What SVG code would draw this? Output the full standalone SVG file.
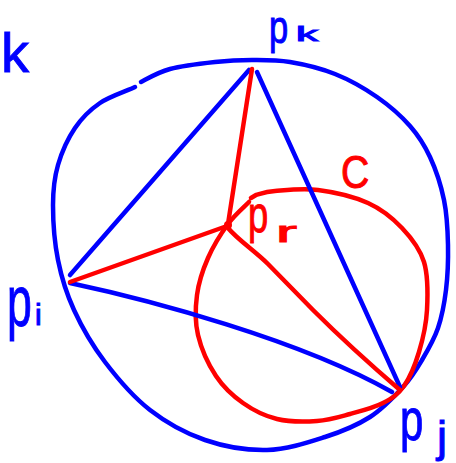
<svg xmlns="http://www.w3.org/2000/svg" width="456" height="463" viewBox="0 0 456 463">
<style>
.b{fill:none;stroke:#0000ff;stroke-width:4.5;stroke-linecap:round;stroke-linejoin:round}
.r{fill:none;stroke:#ff0000;stroke-width:4.5;stroke-linecap:round;stroke-linejoin:round}
.tb{fill:#0000ff;stroke:#0000ff;stroke-width:1;font-family:"Liberation Sans",Arial,sans-serif}
.tr{fill:#ff0000;stroke:#ff0000;stroke-width:1;font-family:"Liberation Sans",Arial,sans-serif}
</style>
<rect width="456" height="463" fill="#ffffff"/>
<g id="circle-k">
<path class="b" d="M141,82 C146.8,79 157.7,72.3 170,69 C182.3,65.7 201.3,63.5 215,62 C228.7,60.5 239.5,60 252,60 C264.5,60 276.2,59.7 290,62 C303.8,64.3 320.5,68.2 335,74 C349.5,79.8 364.5,88.3 377,97 C389.5,105.7 401.2,116 410,126 C418.8,136 424.3,144.7 430,157 C435.7,169.3 441,185.3 444,200 C447,214.7 447.7,230 448,245 C448.3,260 447.7,276.2 446,290 C444.3,303.8 442,316.3 438,328 C434,339.7 427.8,350.2 422,360 C416.2,369.8 411.7,377.5 403,387 C394.3,396.5 383,408.7 370,417 C357,425.3 342.2,431.5 325,437 C307.8,442.5 287,449.5 267,450 C247,450.5 224.5,446.7 205,440 C185.5,433.3 166.7,423 150,410 C133.3,397 117.7,378.7 105,362 C92.3,345.3 81.8,327 74,310 C66.2,293 61.5,277.5 58,260 C54.5,242.5 53,220.8 53,205 C53,189.2 54.3,177.8 58,165 C61.7,152.2 68,138.3 75,128 C82,117.7 90,109.8 100,103 C110,96.2 128.2,90.5 135,87"/>
<text class="tb" x="1" y="72" font-size="56">k</text>
</g>
<g id="circle-c">
<path class="r" d="M249,202 C245.5,205.7 234.8,214.7 228,224 C221.2,233.3 213.2,246.2 208,258 C202.8,269.8 198.7,282.2 197,295 C195.3,307.8 194.8,321.5 198,335 C201.2,348.5 208.5,364.7 216,376 C223.5,387.3 232.8,395.8 243,403 C253.2,410.2 264.7,416 277,419 C289.3,422 304.8,421.8 317,421 C329.2,420.2 339,417 350,414 C361,411 374,407.7 383,403 C392,398.3 398,394.5 404,386 C410,377.5 415.2,364.7 419,352 C422.8,339.3 426.2,325 427,310 C427.8,295 428.2,275.7 424,262 C419.8,248.3 411.3,237.8 402,228 C392.7,218.2 382,209.3 368,203 C354,196.7 333.5,192 318,190 C302.5,188 285.3,190.2 275,191 C264.7,191.8 259.2,194.3 256,195 L251,198"/>
<text class="tr" transform="translate(341,188) scale(0.85,1)" font-size="46">C</text>
</g>
<g id="connectors">
<line class="b" x1="249" y1="70" x2="70" y2="275"/>
<line class="b" x1="257" y1="72" x2="400" y2="387"/>
<path class="b" d="M70,283 C150,300 300,340 392,392"/>
<line class="r" x1="252" y1="69" x2="228" y2="224"/>
<line class="r" x1="227" y1="226" x2="70" y2="282"/>
<path class="r" d="M228,228 C238,240 255,251 268,264 L313,310 C340,337 372,366 400,390"/>
</g>
<g id="pk">
<text class="tb" transform="translate(269,43) scale(0.75,1)" font-size="46">p</text>
<text class="tb" transform="translate(296,41) scale(2.2,1)" font-size="20">k</text>
</g>
<g id="pi">
<text class="tb" transform="translate(7,326) scale(0.62,1)" font-size="72">p</text>
<text class="tb" x="35" y="325" font-size="30">i</text>
</g>
<g id="pj">
<text class="tb" transform="translate(400,440) scale(0.7,1)" font-size="60">p</text>
<text class="tb" x="437" y="452" font-size="45">j</text>
</g>
<g id="pr">
<circle cx="228" cy="225" r="4" fill="#ff0000"/>
<text class="tr" transform="translate(248,232) scale(0.7,1)" font-size="52">p</text>
<text class="tr" transform="translate(276,242) scale(2.1,1)" font-size="30">r</text>
</g>
</svg>
